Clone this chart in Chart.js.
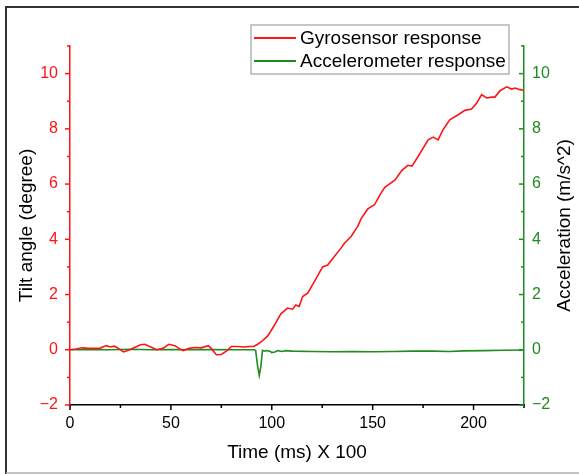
<!DOCTYPE html>
<html>
<head>
<meta charset="utf-8">
<script src="https://cdn.jsdelivr.net/npm/chart.js@4"></script>
<style>
  body { margin: 0; background: #fff; }
  #wrap { position: relative; width: 579px; height: 474px; }
</style>
</head>
<body>
<div id="wrap"><canvas id="tilt" width="579" height="474"></canvas></div>
<script>
// gyro readings (time in ms x 100, tilt in degree)
const gyroTime = [0, 3, 6, 9, 12, 15, 18, 20, 22, 24, 26.5, 29, 32, 35, 37, 40, 43, 46, 49, 52, 54, 56, 59, 62, 65, 68.5, 70, 72.5, 75, 77.5, 80, 83, 86, 89, 91, 93, 95, 98, 101, 104.5, 107.8, 110.3, 111.9, 113.6, 115.3, 117.8, 121.1, 125.2, 127.7, 131, 134.3, 136, 139.3, 142.6, 144.3, 147.6, 150.9, 154.2, 156, 161, 164.5, 167.5, 169.5, 172.5, 177.5, 180, 182.4, 184.9, 188.2, 192.4, 195.7, 199, 201.5, 204, 206.5, 209, 210.6, 213.1, 216.4, 218.9, 220.6, 223, 225];
const gyroTilt = [0, 0.03, 0.07, 0.05, 0.05, 0.06, 0.15, 0.1, 0.13, 0.05, -0.08, -0.02, 0.08, 0.18, 0.2, 0.1, 0, 0.05, 0.2, 0.15, 0.05, -0.03, 0.05, 0.08, 0.07, 0.15, 0.05, -0.18, -0.17, -0.05, 0.12, 0.12, 0.1, 0.12, 0.12, 0.2, 0.3, 0.5, 0.85, 1.3, 1.51, 1.47, 1.62, 1.57, 1.93, 2.05, 2.47, 3.0, 3.07, 3.38, 3.68, 3.86, 4.1, 4.47, 4.75, 5.1, 5.25, 5.68, 5.88, 6.14, 6.5, 6.68, 6.65, 7.0, 7.6, 7.7, 7.6, 7.97, 8.33, 8.51, 8.67, 8.72, 8.93, 9.24, 9.12, 9.15, 9.15, 9.38, 9.52, 9.44, 9.48, 9.42, 9.4];

// accelerometer readings (m/s^2)
const accTime = [0, 10, 20, 30, 40, 50, 60, 70, 80, 91, 92, 93, 93.8, 94.6, 95.4, 96.5, 97.5, 99, 100, 101.5, 103, 105, 107, 110, 120, 130, 140, 150, 160, 170, 180, 188, 195, 205, 215, 225];
const accValue = [0, 0.01, 0, 0.02, 0, 0.01, 0, 0.01, 0, 0, -0.02, -0.6, -0.93, -0.6, -0.02, -0.05, -0.03, -0.05, -0.1, -0.08, -0.03, -0.06, -0.03, -0.05, -0.06, -0.07, -0.06, -0.07, -0.06, -0.05, -0.05, -0.06, -0.04, -0.03, -0.02, -0.01];

const seriesNames = ['Gyrosensor response', 'Accelerometer response'];
const xTitle = 'Time (ms) X 100';
const leftTitle = 'Tilt angle (degree)';
const rightTitle = 'Acceleration (m/s^2)';

const RED = '#ff1414';
const GREEN = '#1e8c1e';
const FONT = "'Liberation Sans', Arial, sans-serif";

const toPoints = (xs, ys) => xs.map((x, i) => ({x: x, y: ys[i]}));
const fmt = v => String(v).replace('-', '\u2212');

// tick marks: long on labelled ticks, short on the others
const tickMarks = {
    id: 'tickMarks',
    afterDraw(chart) {
        const c = chart.ctx;
        const draw = (scale, color, side) => {
            c.save();
            c.strokeStyle = color;
            c.lineWidth = 1.5;
            scale.ticks.forEach(t => {
                const len = (scale.id === 'x' ? t.value % 50 === 0 : t.value % 2 === 0) ? 5 : 3;
                const p = scale.getPixelForValue(t.value);
                c.beginPath();
                if (side === 'bottom') {
                    c.moveTo(p, scale.top); c.lineTo(p, scale.top + len);
                } else if (side === 'left') {
                    c.moveTo(scale.right - len, p); c.lineTo(scale.right, p);
                } else {
                    c.moveTo(scale.left - len, p); c.lineTo(scale.left, p);
                }
                c.stroke();
            });
            c.restore();
        };
        draw(chart.scales.x, '#000', 'bottom');
        draw(chart.scales.y, RED, 'left');
        draw(chart.scales.y2, GREEN, 'right');

        // right title reads bottom to top like the left one
        const a = chart.chartArea;
        c.save();
        c.translate(565, (a.top + a.bottom) / 2);
        c.rotate(-Math.PI / 2);
        c.font = '19px ' + FONT;
        c.fillStyle = '#000';
        c.textAlign = 'center';
        c.textBaseline = 'middle';
        c.fillText(rightTitle, 0, 0);
        c.restore();

        // legend box
        c.save();
        c.fillStyle = '#fff';
        c.fillRect(251, 25, 258, 49);
        c.strokeStyle = '#b4b4b4';
        c.lineWidth = 1.5;
        c.strokeRect(251, 25, 258, 49);
        c.font = '19px ' + FONT;
        c.textBaseline = 'middle';
        c.fillStyle = '#000';
        [[RED, 38], [GREEN, 61]].forEach(([col, yy], i) => {
            c.strokeStyle = col;
            c.lineWidth = 2;
            c.beginPath(); c.moveTo(254, yy); c.lineTo(296, yy); c.stroke();
            c.fillText(seriesNames[i], 300, yy + 1);
        });
        c.restore();

        // figure frame
        c.save();
        c.strokeStyle = '#333';
        c.lineWidth = 2;
        c.beginPath(); c.moveTo(6, 474); c.lineTo(6, 7); c.lineTo(579, 7); c.stroke();
        c.strokeStyle = '#b0b0b0';
        c.lineWidth = 1.5;
        c.beginPath(); c.moveTo(6, 473); c.lineTo(579, 473); c.stroke();
        c.restore();
    }
};

const yTicks = (color, pad) => ({
    stepSize: 1,
    color: color,
    padding: pad,
    font: {family: FONT, size: 16},
    callback: v => (v % 2 === 0 ? fmt(v) : '')
});

new Chart(document.getElementById('tilt'), {
    type: 'line',
    data: {
        datasets: [{
            label: seriesNames[0],
            data: toPoints(gyroTime, gyroTilt),
            borderColor: RED,
            borderWidth: 1.6,
            pointRadius: 0,
            tension: 0,
            yAxisID: 'y'
        }, {
            label: seriesNames[1],
            data: toPoints(accTime, accValue),
            borderColor: GREEN,
            borderWidth: 1.6,
            pointRadius: 0,
            tension: 0,
            yAxisID: 'y2'
        }]
    },
    options: {
        responsive: false,
        animation: false,
        layout: {padding: {top: 46, left: 0, right: 0, bottom: 0}},
        plugins: {
            legend: {display: false},
            tooltip: {enabled: false}
        },
        scales: {
            x: {
                type: 'linear',
                min: 0,
                max: 225,
                grid: {display: false, drawTicks: false},
                border: {display: true, color: '#000', width: 1.5},
                ticks: {
                    stepSize: 25,
                    color: '#000',
                    padding: 9,
                    maxRotation: 0,
                    autoSkip: false,
                    font: {family: FONT, size: 16},
                    callback: v => (v % 50 === 0 ? fmt(v) : '')
                },
                title: {
                    display: true,
                    text: xTitle,
                    color: '#000',
                    font: {family: FONT, size: 19},
                    padding: {top: 0, bottom: 10}
                },
                afterFit: s => { s.height = 69; }
            },
            y: {
                position: 'left',
                min: -2,
                max: 11,
                grid: {display: false, drawTicks: false},
                border: {display: true, color: RED, width: 1.5},
                ticks: yTicks(RED, 12),
                title: {
                    display: true,
                    text: leftTitle,
                    color: '#000',
                    font: {family: FONT, size: 19},
                    padding: {top: 15, bottom: 0}
                },
                afterFit: s => { s.width = 70; }
            },
            y2: {
                position: 'right',
                min: -2,
                max: 11,
                grid: {display: false, drawTicks: false},
                border: {display: true, color: GREEN, width: 1.5},
                ticks: yTicks(GREEN, 8),
                afterFit: s => { s.width = 55; }
            }
        }
    },
    plugins: [tickMarks]
});
</script>
</body>
</html>
